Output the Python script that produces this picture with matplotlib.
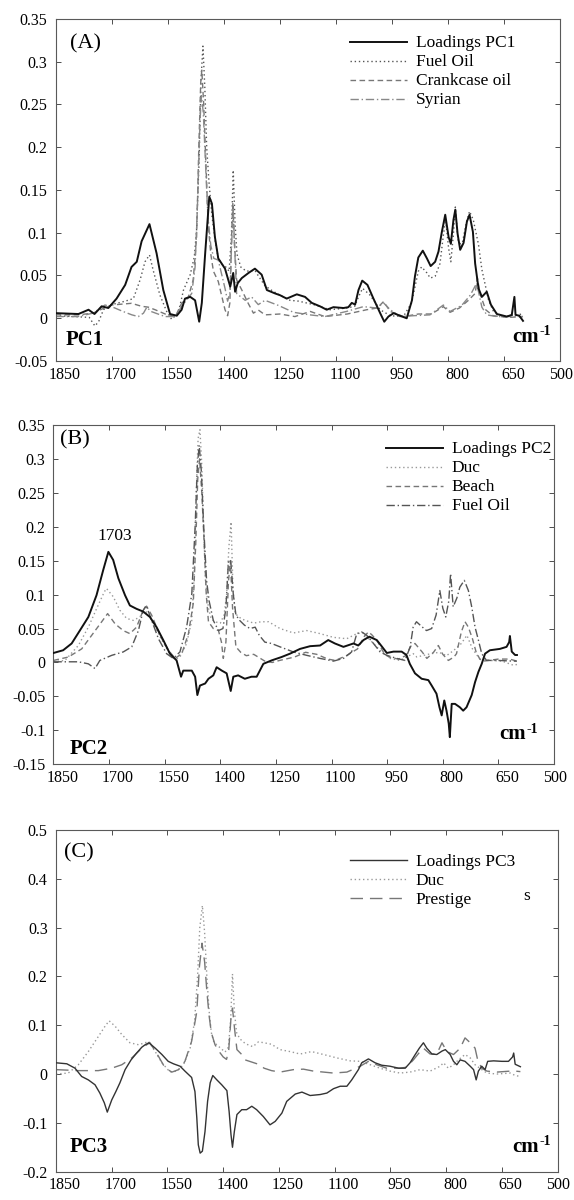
import numpy as np
import matplotlib
matplotlib.use('Agg')
import matplotlib.pyplot as plt
import matplotlib.transforms as mtransforms

plt.rcParams['font.family'] = ['Liberation Serif', 'DejaVu Serif']

# ---- axis ticks ----
xticks = [1850, 1700, 1550, 1400, 1250, 1100, 950, 800, 650, 500]
a_yticks = [-0.05, 0, 0.05, 0.1, 0.15, 0.2, 0.25, 0.3, 0.35]
b_yticks = [-0.15, -0.1, -0.05, 0, 0.05, 0.1, 0.15, 0.2, 0.25, 0.3, 0.35]
c_yticks = [-0.2, -0.1, 0, 0.1, 0.2, 0.3, 0.4, 0.5]

# ---- panel A : (wavenumber, value) ----
a_pc1 = [(1850, 0.006), (1789, 0.005), (1762, 0.010), (1746, 0.005), (1727, 0.014), (1709, 0.012),
         (1687, 0.023), (1664, 0.039), (1647, 0.060), (1633, 0.066), (1620, 0.090), (1599, 0.110),
         (1580, 0.076), (1562, 0.033), (1544, 0.005), (1526, 0.003), (1513, 0.010), (1504, 0.023),
         (1490, 0.025), (1477, 0.021), (1466, -0.004), (1459, 0.018), (1450, 0.076), (1439, 0.142),
         (1432, 0.134), (1424, 0.095), (1415, 0.070), (1397, 0.058), (1383, 0.037), (1375, 0.053),
         (1370, 0.031), (1363, 0.041), (1352, 0.047), (1334, 0.053), (1317, 0.058), (1299, 0.051),
         (1285, 0.033), (1263, 0.029), (1250, 0.027), (1232, 0.023), (1205, 0.028), (1183, 0.025),
         (1165, 0.018), (1143, 0.014), (1125, 0.010), (1107, 0.013), (1080, 0.012), (1067, 0.013),
         (1058, 0.018), (1049, 0.016), (1040, 0.033), (1030, 0.044), (1016, 0.039), (1000, 0.023),
         (982, 0.006), (971, -0.004), (960, 0.002), (946, 0.006), (929, 0.003), (911, 0.000),
         (897, 0.021), (889, 0.049), (880, 0.071), (868, 0.079), (857, 0.070), (847, 0.061),
         (835, 0.066), (826, 0.078), (817, 0.101), (808, 0.121), (799, 0.095), (793, 0.087),
         (786, 0.115), (781, 0.127), (775, 0.099), (768, 0.080), (759, 0.088), (750, 0.113),
         (743, 0.121), (734, 0.101), (728, 0.064), (719, 0.035), (710, 0.025), (697, 0.031),
         (686, 0.016), (670, 0.005), (643, 0.002), (630, 0.004), (623, 0.025), (620, 0.004),
         (610, 0.003), (600, -0.003)]
a_fuel = [(1850, 0.003), (1800, 0.002), (1760, 0.001), (1745, -0.009), (1735, -0.004), (1722, 0.010),
          (1700, 0.016), (1664, 0.020), (1642, 0.023), (1624, 0.045), (1611, 0.066), (1599, 0.074),
          (1589, 0.056), (1571, 0.027), (1553, 0.008), (1540, -0.001), (1522, 0.006), (1508, 0.033),
          (1490, 0.051), (1479, 0.072), (1473, 0.103), (1466, 0.190), (1461, 0.280), (1456, 0.318),
          (1451, 0.270), (1446, 0.200), (1440, 0.160), (1432, 0.120), (1423, 0.090), (1415, 0.070),
          (1405, 0.063), (1395, 0.060), (1386, 0.055), (1380, 0.095), (1375, 0.173), (1370, 0.110),
          (1365, 0.075), (1355, 0.060), (1340, 0.055), (1317, 0.056), (1307, 0.049), (1290, 0.038),
          (1270, 0.032), (1250, 0.027), (1223, 0.021), (1200, 0.020), (1160, 0.016), (1116, 0.010),
          (1071, 0.012), (1050, 0.014), (1040, 0.025), (1029, 0.035), (1009, 0.027), (982, 0.010),
          (955, 0.003), (920, 0.002), (898, 0.018), (880, 0.055), (871, 0.060), (857, 0.053),
          (848, 0.047), (835, 0.049), (822, 0.064), (813, 0.097), (807, 0.115), (799, 0.082),
          (793, 0.066), (786, 0.099), (781, 0.130), (774, 0.092), (764, 0.084), (752, 0.111),
          (743, 0.125), (733, 0.115), (719, 0.086), (710, 0.057), (701, 0.039), (692, 0.021),
          (679, 0.008), (652, 0.002), (620, 0.004), (600, 0.005)]
a_crank = [(1850, 0.004), (1790, 0.004), (1750, 0.006), (1720, 0.012), (1700, 0.0155), (1647, 0.0175),
           (1620, 0.014), (1602, 0.013), (1584, 0.010), (1557, 0.005), (1530, 0.002), (1513, 0.0175),
           (1495, 0.025), (1482, 0.045), (1473, 0.095), (1467, 0.200), (1462, 0.275), (1459, 0.290),
           (1454, 0.250), (1448, 0.180), (1442, 0.110), (1435, 0.075), (1428, 0.055), (1415, 0.043),
           (1397, 0.010), (1390, 0.003), (1384, 0.018), (1379, 0.100), (1376, 0.135), (1372, 0.090),
           (1366, 0.045), (1352, 0.033), (1335, 0.0175), (1321, 0.006), (1308, 0.0097), (1290, 0.004),
           (1250, 0.005), (1210, 0.002), (1169, 0.008), (1130, 0.002), (1070, 0.005), (1018, 0.010),
           (990, 0.012), (973, 0.0195), (955, 0.008), (920, 0.002), (880, 0.005), (845, 0.005),
           (813, 0.0136), (795, 0.007), (770, 0.012), (746, 0.021), (728, 0.029), (722, 0.047),
           (715, 0.029), (700, 0.010), (680, 0.003), (640, 0.001), (600, 0.002)]
a_syr = [(1850, 0.002), (1790, 0.002), (1750, 0.006), (1718, 0.0155), (1697, 0.013), (1670, 0.008),
         (1646, 0.004), (1629, 0.002), (1615, 0.006), (1606, 0.013), (1595, 0.008), (1570, 0.004),
         (1557, 0.002), (1530, 0.002), (1513, 0.014), (1486, 0.029), (1477, 0.060), (1470, 0.140),
         (1464, 0.230), (1460, 0.260), (1455, 0.240), (1449, 0.180), (1443, 0.120), (1435, 0.085),
         (1427, 0.070), (1415, 0.068), (1397, 0.035), (1390, 0.020), (1384, 0.030), (1379, 0.090),
         (1375, 0.125), (1371, 0.080), (1366, 0.029), (1343, 0.021), (1326, 0.025), (1308, 0.016),
         (1290, 0.021), (1254, 0.015), (1214, 0.007), (1170, 0.004), (1130, 0.002), (1072, 0.008),
         (1027, 0.0136), (991, 0.012), (973, 0.018), (955, 0.010), (929, 0.002), (893, 0.003),
         (849, 0.004), (813, 0.0155), (795, 0.008), (764, 0.015), (741, 0.027), (724, 0.041),
         (710, 0.013), (697, 0.004), (670, 0.002), (600, 0.002)]

# ---- panel B ----
b_pc2 = [(1850, 0.014), (1824, 0.018), (1801, 0.028), (1779, 0.047), (1756, 0.067), (1734, 0.099),
         (1716, 0.136), (1702, 0.163), (1689, 0.151), (1675, 0.124), (1657, 0.099), (1644, 0.084),
         (1626, 0.079), (1608, 0.075), (1590, 0.067), (1572, 0.052), (1554, 0.033), (1536, 0.013),
         (1518, 0.003), (1506, -0.021), (1500, -0.012), (1477, -0.012), (1468, -0.021), (1462, -0.048),
         (1455, -0.034), (1441, -0.031), (1432, -0.024), (1419, -0.019), (1410, -0.007), (1396, -0.012),
         (1383, -0.016), (1372, -0.042), (1365, -0.021), (1352, -0.019), (1334, -0.024), (1316, -0.021),
         (1302, -0.021), (1284, -0.002), (1262, 0.003), (1235, 0.008), (1212, 0.013), (1185, 0.020),
         (1158, 0.024), (1131, 0.025), (1109, 0.033), (1091, 0.028), (1068, 0.023), (1041, 0.028),
         (1028, 0.025), (1014, 0.033), (998, 0.038), (978, 0.033), (965, 0.024), (951, 0.014),
         (933, 0.016), (911, 0.016), (898, 0.011), (889, -0.002), (875, -0.016), (857, -0.024),
         (839, -0.026), (830, -0.034), (817, -0.046), (809, -0.066), (803, -0.078), (796, -0.056),
         (790, -0.071), (784, -0.090), (781, -0.110), (776, -0.061), (767, -0.061), (754, -0.066),
         (745, -0.071), (736, -0.066), (722, -0.048), (713, -0.029), (704, -0.014), (695, -0.002),
         (686, 0.013), (673, 0.018), (646, 0.020), (628, 0.023), (621, 0.030), (619, 0.039),
         (614, 0.016), (605, 0.011), (600, 0.011)]
b_duc = [(1850, 0.001), (1819, 0.003), (1783, 0.025), (1756, 0.052), (1734, 0.079), (1713, 0.104),
         (1707, 0.109), (1689, 0.097), (1671, 0.077), (1653, 0.065), (1635, 0.062), (1617, 0.067),
         (1605, 0.079), (1585, 0.062), (1563, 0.038), (1540, 0.016), (1522, 0.004), (1509, 0.008),
         (1491, 0.028), (1477, 0.062), (1470, 0.136), (1465, 0.250), (1460, 0.330), (1455, 0.343),
         (1450, 0.290), (1445, 0.200), (1440, 0.120), (1432, 0.080), (1425, 0.065), (1415, 0.060),
         (1400, 0.058), (1390, 0.070), (1383, 0.100), (1377, 0.170), (1371, 0.207), (1366, 0.110),
         (1360, 0.072), (1345, 0.065), (1333, 0.062), (1310, 0.058), (1290, 0.060), (1270, 0.060),
         (1239, 0.050), (1203, 0.0435), (1167, 0.047), (1131, 0.0425), (1095, 0.037), (1059, 0.035),
         (1032, 0.0425), (1014, 0.0435), (996, 0.033), (969, 0.018), (942, 0.006), (916, 0.003),
         (898, 0.008), (880, 0.013), (870, 0.008), (840, 0.012), (810, 0.015), (790, 0.010),
         (770, 0.018), (750, 0.028), (735, 0.040), (720, 0.020), (700, 0.005), (670, 0.003),
         (640, 0.002), (610, -0.004), (600, -0.003)]
b_beach = [(1850, 0.003), (1810, 0.008), (1774, 0.020), (1747, 0.040), (1720, 0.060), (1704, 0.072),
           (1684, 0.057), (1662, 0.047), (1644, 0.0425), (1626, 0.052), (1608, 0.077), (1599, 0.083),
           (1585, 0.0695), (1563, 0.040), (1540, 0.018), (1522, 0.006), (1504, 0.013), (1486, 0.0425),
           (1473, 0.087), (1466, 0.180), (1461, 0.270), (1456, 0.300), (1450, 0.250), (1444, 0.180),
           (1438, 0.100), (1432, 0.060), (1419, 0.050), (1405, 0.047), (1397, 0.030), (1392, 0.006),
           (1385, 0.030), (1378, 0.120), (1373, 0.150), (1367, 0.080), (1358, 0.023), (1345, 0.015),
           (1330, 0.010), (1310, 0.012), (1295, 0.007), (1280, 0.002), (1260, 0.000), (1240, 0.003),
           (1200, 0.008), (1170, 0.015), (1140, 0.012), (1110, 0.005), (1090, 0.003), (1060, 0.010),
           (1030, 0.020), (1010, 0.040), (1000, 0.045), (990, 0.040), (975, 0.030), (960, 0.015),
           (945, 0.008), (920, 0.005), (900, 0.010), (885, 0.025), (875, 0.028), (855, 0.015),
           (843, 0.006), (825, 0.015), (812, 0.025), (800, 0.012), (785, 0.003), (770, 0.008),
           (763, 0.013), (750, 0.045), (740, 0.060), (731, 0.052), (720, 0.035), (710, 0.015),
           (700, 0.005), (690, 0.002), (650, 0.005), (620, 0.005), (600, 0.002)]
b_fuel = [(1850, 0.001), (1783, 0.001), (1756, -0.002), (1738, -0.009), (1725, 0.003), (1693, 0.0105),
          (1662, 0.0155), (1639, 0.023), (1621, 0.047), (1608, 0.077), (1600, 0.084), (1587, 0.0646),
          (1567, 0.035), (1545, 0.013), (1527, 0.006), (1509, 0.0155), (1491, 0.052), (1477, 0.101),
          (1468, 0.200), (1462, 0.290), (1457, 0.320), (1451, 0.280), (1445, 0.200), (1437, 0.120),
          (1430, 0.090), (1419, 0.062), (1405, 0.047), (1393, 0.050), (1385, 0.080), (1378, 0.150),
          (1372, 0.150), (1365, 0.100), (1358, 0.070), (1348, 0.062), (1335, 0.055), (1320, 0.050),
          (1306, 0.052), (1295, 0.040), (1280, 0.030), (1262, 0.028), (1239, 0.023), (1203, 0.0155),
          (1167, 0.0105), (1131, 0.006), (1095, 0.002), (1068, 0.006), (1046, 0.0155), (1032, 0.0425),
          (1019, 0.045), (1005, 0.040), (987, 0.028), (969, 0.0155), (951, 0.0105), (924, 0.006),
          (902, 0.003), (888, 0.023), (880, 0.052), (871, 0.060), (857, 0.053), (844, 0.047),
          (830, 0.050), (818, 0.070), (808, 0.106), (800, 0.080), (792, 0.067), (784, 0.090),
          (779, 0.131), (772, 0.082), (762, 0.095), (754, 0.111), (742, 0.121), (731, 0.106),
          (722, 0.082), (713, 0.052), (704, 0.033), (695, 0.013), (682, 0.003), (650, 0.003),
          (610, 0.002), (600, 0.002)]

# ---- panel C ----
c_pc3 = [(1850, 0.023), (1821, 0.021), (1799, 0.012), (1781, -0.005), (1763, -0.012), (1745, -0.022),
         (1732, -0.039), (1720, -0.059), (1712, -0.078), (1700, -0.053), (1689, -0.036), (1678, -0.018),
         (1664, 0.009), (1648, 0.029), (1633, 0.043), (1619, 0.055), (1610, 0.060), (1600, 0.064),
         (1583, 0.053), (1565, 0.040), (1548, 0.026), (1534, 0.021), (1516, 0.016), (1503, 0.006),
         (1485, -0.007), (1476, -0.036), (1471, -0.090), (1467, -0.145), (1462, -0.162), (1456, -0.158),
         (1449, -0.118), (1442, -0.056), (1435, -0.018), (1428, -0.003), (1417, -0.012), (1404, -0.022),
         (1390, -0.034), (1384, -0.077), (1379, -0.124), (1375, -0.150), (1370, -0.118), (1363, -0.083),
         (1350, -0.073), (1337, -0.073), (1323, -0.066), (1310, -0.073), (1292, -0.087), (1274, -0.104),
         (1260, -0.097), (1242, -0.080), (1229, -0.056), (1206, -0.041), (1188, -0.037), (1166, -0.044),
         (1139, -0.042), (1121, -0.039), (1103, -0.030), (1085, -0.025), (1067, -0.025), (1054, -0.012),
         (1036, 0.009), (1027, 0.023), (1009, 0.031), (991, 0.023), (973, 0.018), (951, 0.016),
         (928, 0.012), (910, 0.012), (897, 0.023), (883, 0.040), (872, 0.053), (861, 0.064),
         (852, 0.053), (838, 0.041), (825, 0.040), (811, 0.047), (802, 0.050), (789, 0.040),
         (780, 0.026), (771, 0.019), (762, 0.029), (749, 0.026), (735, 0.016), (726, 0.009),
         (719, -0.012), (713, 0.006), (704, 0.016), (695, 0.009), (688, 0.026), (672, 0.027),
         (650, 0.026), (632, 0.026), (621, 0.035), (618, 0.043), (614, 0.020), (600, 0.015)]
c_duc = [(1850, 0.000), (1817, 0.002), (1790, 0.019), (1763, 0.046), (1736, 0.077), (1718, 0.098),
         (1707, 0.109), (1691, 0.098), (1673, 0.081), (1651, 0.064), (1628, 0.060), (1610, 0.064),
         (1601, 0.067), (1583, 0.046), (1565, 0.023), (1543, 0.004), (1525, 0.006), (1507, 0.019),
         (1489, 0.053), (1477, 0.108), (1469, 0.200), (1463, 0.300), (1456, 0.345), (1450, 0.290),
         (1444, 0.200), (1438, 0.130), (1432, 0.085), (1425, 0.065), (1410, 0.055), (1395, 0.045),
         (1386, 0.055), (1380, 0.110), (1375, 0.205), (1370, 0.130), (1364, 0.085), (1355, 0.072),
         (1340, 0.062), (1320, 0.056), (1305, 0.066), (1290, 0.064), (1270, 0.061), (1247, 0.050),
         (1220, 0.046), (1193, 0.041), (1162, 0.046), (1130, 0.040), (1094, 0.033), (1058, 0.027),
         (1031, 0.026), (1004, 0.019), (978, 0.012), (951, 0.006), (924, 0.002), (897, 0.004),
         (870, 0.009), (843, 0.006), (816, 0.016), (807, 0.023), (794, 0.012), (780, 0.019),
         (767, 0.029), (749, 0.040), (735, 0.033), (722, 0.019), (704, 0.009), (690, 0.002),
         (663, 0.000), (627, 0.002), (614, -0.003), (600, -0.005)]
c_prest = [(1850, 0.009), (1790, 0.007), (1736, 0.007), (1700, 0.012), (1673, 0.019), (1646, 0.033),
           (1619, 0.053), (1606, 0.060), (1597, 0.064), (1574, 0.036), (1556, 0.012), (1538, 0.004),
           (1520, 0.009), (1503, 0.026), (1485, 0.067), (1471, 0.128), (1464, 0.220), (1457, 0.268),
           (1450, 0.230), (1444, 0.170), (1438, 0.120), (1432, 0.085), (1422, 0.060), (1410, 0.045),
           (1400, 0.035), (1391, 0.030), (1385, 0.050), (1379, 0.115), (1375, 0.135), (1369, 0.090),
           (1363, 0.050), (1350, 0.040), (1341, 0.029), (1325, 0.025), (1305, 0.020), (1290, 0.012),
           (1270, 0.007), (1247, 0.004), (1211, 0.009), (1184, 0.010), (1157, 0.006), (1103, 0.002),
           (1067, 0.004), (1031, 0.016), (1009, 0.026), (987, 0.019), (960, 0.012), (924, 0.012),
           (906, 0.014), (888, 0.029), (870, 0.046), (861, 0.053), (843, 0.041), (825, 0.041),
           (811, 0.064), (798, 0.046), (780, 0.040), (762, 0.053), (749, 0.074), (735, 0.064),
           (722, 0.053), (715, 0.029), (704, 0.012), (690, 0.006), (663, 0.004), (627, 0.006),
           (614, 0.006), (600, 0.005)]


def xy(pairs):
    arr = np.array(pairs, dtype=float)
    return arr[:, 0], arr[:, 1]


def style_axes(fig, ax, yticks):
    ax.set_xlim(1850, 500)
    ax.set_ylim(yticks[0], yticks[-1])
    ax.set_xticks(xticks)
    ax.set_xticklabels([str(v) for v in xticks])
    ax.set_yticks(yticks)
    ax.set_yticklabels(['%g' % v for v in yticks])
    ax.tick_params(direction='in', top=True, right=True, length=3.6, width=0.7,
                   labelsize=11.5, color='0.3')
    ax.tick_params(axis='x', pad=4)
    ax.tick_params(axis='y', pad=6)
    for s in ax.spines.values():
        s.set_color('0.35')
        s.set_linewidth(0.8)
    # tick labels in the original sit a little to the right of their ticks
    labs = ax.get_xticklabels()
    for i, lab in enumerate(labs):
        dx = 9 if i < len(labs) - 1 else 1
        lab.set_transform(lab.get_transform() +
                          mtransforms.ScaledTranslation(dx / 100, 0, fig.dpi_scale_trans))


def cm_label(ax, x, y):
    # "cm" with a plain-hyphen superscript, as in the original
    t = ax.text(x, y, 'cm', transform=ax.transAxes, ha='left', va='baseline',
                fontsize=15, fontweight='bold')
    ax.annotate('-1', xy=(1.0, 1.0), xycoords=t, xytext=(0.5, 1), textcoords='offset points',
                ha='left', va='top', fontsize=10, fontweight='bold')


fig = plt.figure(figsize=(5.74, 12), dpi=100)
axA = fig.add_axes([0.0969, 0.6991, 0.8794, 0.2853])
axB = fig.add_axes([0.0932, 0.3631, 0.8720, 0.2828])
axC = fig.add_axes([0.0976, 0.0236, 0.8737, 0.2848])

leg_kw = dict(loc='upper left', frameon=False, fontsize=12.5, handlelength=3.3,
              handletextpad=0.5, labelspacing=0.17, borderpad=0, borderaxespad=0,
              handleheight=0.5)

# ---- A ----
ax = axA
x, y = xy(a_pc1)
ax.plot(x, y, color='#111111', lw=1.4, label='Loadings PC1', zorder=5)
x, y = xy(a_fuel)
ax.plot(x, y, color='#555555', lw=1.0, ls=(0, (1, 2)), label='Fuel Oil')
x, y = xy(a_crank)
ax.plot(x, y, color='#777777', lw=1.0, ls=(0, (4, 2.5)), label='Crankcase oil')
x, y = xy(a_syr)
ax.plot(x, y, color='#888888', lw=1.0, ls=(0, (6, 2, 1, 2)), label='Syrian')
style_axes(fig, ax, a_yticks)
ax.legend(bbox_to_anchor=(0.583, 0.951), **leg_kw)
ax.text(0.0285, 0.928, '(A)', transform=ax.transAxes, fontsize=16, va='center', ha='left')
ax.text(0.0206, 0.0616, 'PC1', transform=ax.transAxes, fontsize=15, fontweight='bold',
        va='center', ha='left')
cm_label(ax, 0.905, 0.0567)

# ---- B ----
ax = axB
x, y = xy(b_pc2)
ax.plot(x, y, color='#111111', lw=1.4, label='Loadings PC2', zorder=5)
x, y = xy(b_duc)
ax.plot(x, y, color='#999999', lw=1.0, ls=(0, (1, 2)), label='Duc')
x, y = xy(b_beach)
ax.plot(x, y, color='#777777', lw=1.0, ls=(0, (4, 2.5)), label='Beach')
x, y = xy(b_fuel)
ax.plot(x, y, color='#555555', lw=1.0, ls=(0, (6, 2, 1, 2)), label='Fuel Oil')
style_axes(fig, ax, b_yticks)
ax.legend(bbox_to_anchor=(0.664, 0.952), **leg_kw)
ax.text(0.0138, 0.956, '(B)', transform=ax.transAxes, fontsize=16, va='center', ha='left')
ax.text(1684, 0.186, '1703', fontsize=12.5, ha='center', va='center')
ax.text(0.032, 0.045, 'PC2', transform=ax.transAxes, fontsize=15, fontweight='bold',
        va='center', ha='left')
cm_label(ax, 0.891, 0.0737)

# ---- C ----
ax = axC
x, y = xy(c_pc3)
ax.plot(x, y, color='#333333', lw=1.0, label='Loadings PC3', zorder=5)
x, y = xy(c_duc)
ax.plot(x, y, color='#999999', lw=1.0, ls=(0, (1, 2)), label='Duc')
x, y = xy(c_prest)
ax.plot(x, y, color='#777777', lw=1.0, ls=(0, (9, 5)), label='Prestige')
style_axes(fig, ax, c_yticks)
ax.legend(bbox_to_anchor=(0.586, 0.9295), **leg_kw)
ax.text(0.939, 0.808, 's', transform=ax.transAxes, fontsize=12.5, va='center', ha='center')
ax.text(0.016, 0.932, '(C)', transform=ax.transAxes, fontsize=16, va='center', ha='left')
ax.text(0.028, 0.073, 'PC3', transform=ax.transAxes, fontsize=15, fontweight='bold',
        va='center', ha='left')
cm_label(ax, 0.910, 0.0585)

fig.savefig('out.png', dpi=100)
